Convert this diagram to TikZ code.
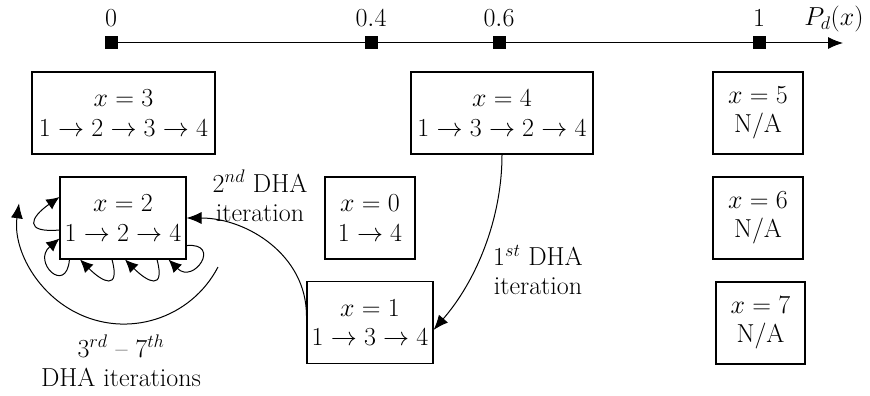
\RequirePackage{fix-cm}
\documentclass[tikz,border=0pt]{standalone}
\usetikzlibrary{arrows.meta}
\begin{document}
\begin{tikzpicture}[x=1pt,y=-1pt,
  every node/.style={font=\fontsize{26}{29.5}\selectfont},
  box/.style={draw, line width=1.1pt, align=center, minimum height=82pt, inner sep=2pt},
  axmark/.style={fill=black, minimum size=13pt, inner sep=0pt},
  lbl/.style={align=center},
  conn/.style={line width=1pt, -{Latex[length=15pt,width=12pt]}},
  selfloop/.style={line width=1pt, -{Latex[length=13pt,width=12pt]}},
]
\useasboundingbox (0,0) rectangle (870,396);

% axis
\coordinate (a0) at (111,43);
\coordinate (a04) at (371,43);
\coordinate (a06) at (499,43);
\coordinate (a1) at (759,43);
\coordinate (aend) at (843,43);
\draw[conn] (a0) -- (aend);
\node[axmark] (m0) at (a0) {};
\node[axmark] (m04) at (a04) {};
\node[axmark] (m06) at (a06) {};
\node[axmark] (m1) at (a1) {};
\node[anchor=base] (l0) at (111,27) {$0$};
\node[anchor=base] (l04) at (371,27) {$0.4$};
\node[anchor=base] (l06) at (499,27) {$0.6$};
\node[anchor=base] (l1) at (759,27) {$1$};
\node[anchor=base] (lp) at (834,26) {$P_d(x)$};

% boxes
\node[box, minimum width=183pt] (x3) at (123.5,113) {$x=3$\\$1\rightarrow2\rightarrow3\rightarrow4$};
\node[box, minimum width=182pt] (x4) at (502,113) {$x=4$\\$1\rightarrow3\rightarrow2\rightarrow4$};
\node[box, minimum width=90pt] (x5) at (758,113) {$x=5$\\N/A};
\node[box, minimum width=126pt] (x2) at (123,218) {$x=2$\\$1\rightarrow2\rightarrow4$};
\node[box, minimum width=90pt] (x0) at (370,218) {$x=0$\\$1\rightarrow4$};
\node[box, minimum width=90pt] (x6) at (758,218) {$x=6$\\N/A};
\node[box, minimum width=126pt] (x1) at (370,322.5) {$x=1$\\$1\rightarrow3\rightarrow4$};
\node[box, minimum width=89pt] (x7) at (760.5,323) {$x=7$\\N/A};

% DHA iterations
\draw[conn] (x4.south) to[out=-90,in=49,looseness=0.88] ([yshift=-7.5pt]x1.east);
\draw[conn] ([yshift=7pt]x1.west) to[out=90,in=0] (x2.east);

% self loops on x=2
\draw[selfloop] ([yshift=-12pt]x2.west) to[out=185,in=-145,looseness=2.8] ([yshift=21pt]x2.west);
\draw[selfloop] ([xshift=10pt]x2.south west) to[out=-95,in=-140,looseness=4] ([yshift=21pt]x2.south west);
\draw[selfloop] ([xshift=-11pt]x2.south) to[out=-75,in=-45,looseness=2.6] ([xshift=-43pt]x2.south);
\draw[selfloop] ([xshift=34pt]x2.south) to[out=-75,in=-45,looseness=2.6] ([xshift=2pt]x2.south);
\draw[selfloop] ([yshift=14pt]x2.south east) to[out=5,in=-45,looseness=4] ([xshift=-18pt]x2.south east);

% big arc
\coordinate (bs) at (218,267);
\draw[conn] (bs) arc[start angle=-27.5, end angle=-188, radius=106pt];

% labels
\node[lbl] (t2) at (260,196) {$2^{nd}$ DHA\\iteration};
\node[lbl] (t1) at (538,270) {$1^{st}$ DHA\\iteration};
\node[lbl] (t3) at (121,361) {$3^{rd}$ -- $7^{th}$\\DHA iterations};
\end{tikzpicture}
\end{document}
